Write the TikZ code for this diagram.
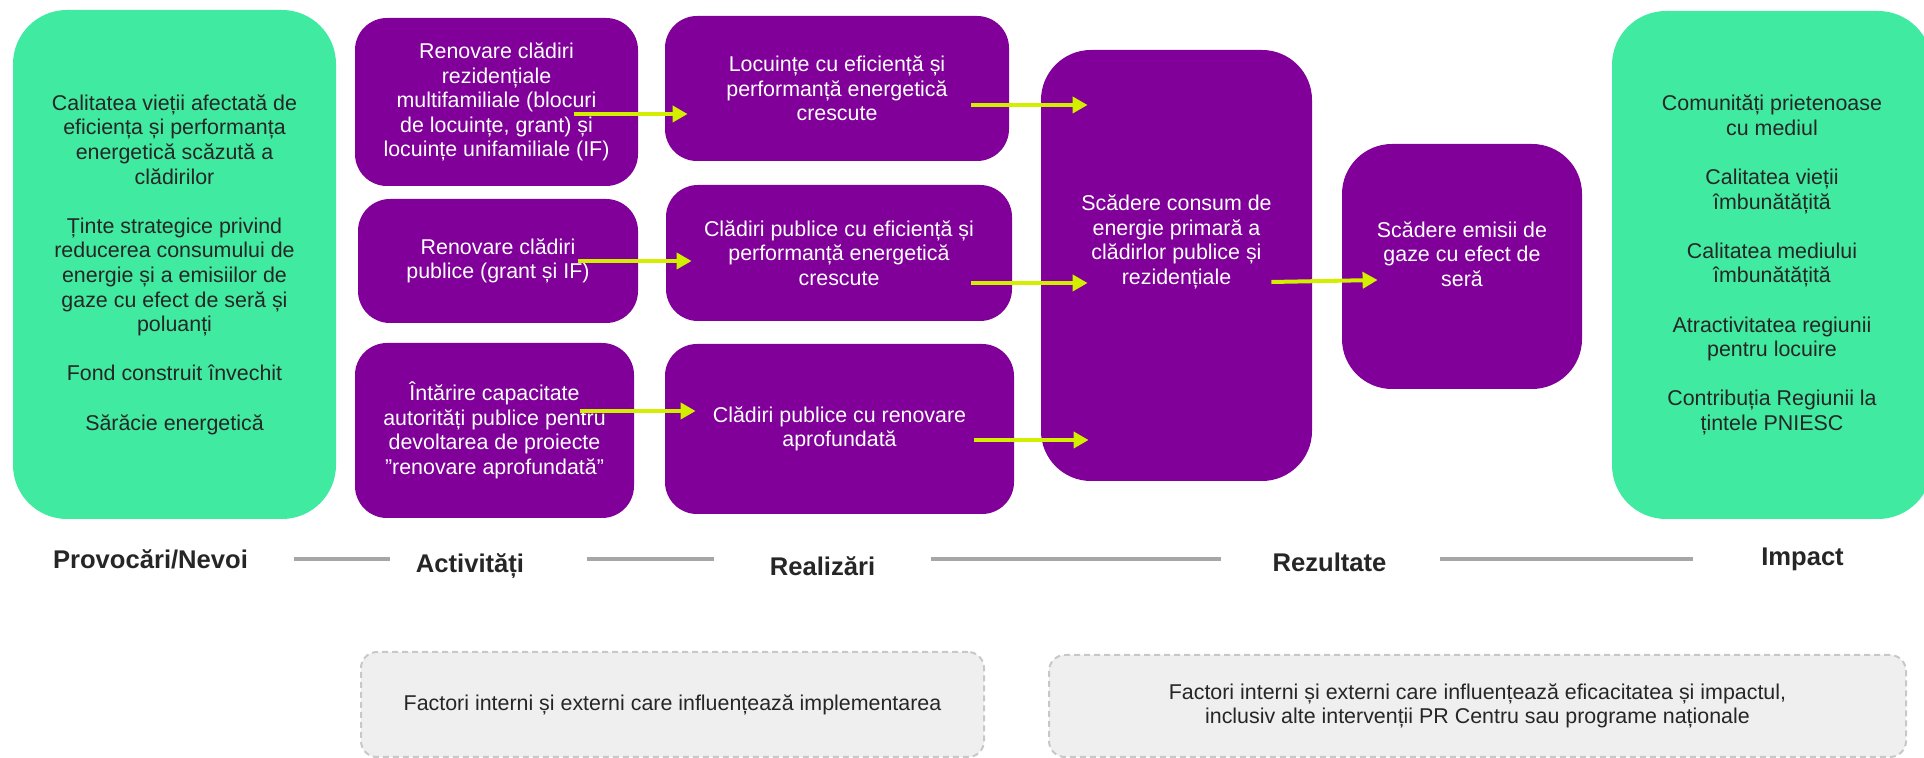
\documentclass[tikz,border=0pt]{standalone}
\usepackage{fontspec}
\setmainfont{Liberation Sans}
\usetikzlibrary{arrows.meta,calc}
\definecolor{NeedClr}{RGB}{64,234,160}
\definecolor{BoxClr}{RGB}{128,0,153}
\definecolor{ArrowClr}{RGB}{212,238,0}
\definecolor{LineClr}{RGB}{166,166,166}
\definecolor{TextClr}{RGB}{38,38,38}
\definecolor{NoteClr}{RGB}{239,239,239}
\definecolor{NoteLineClr}{RGB}{200,200,200}

\tikzset{
  boxtext/.style={align=center,inner sep=0pt,font=\fontsize{10.7pt}{12.3pt}\selectfont},
  greenbox/.style={boxtext,fill=NeedClr,text=TextClr,rounded corners=27pt},
  purplebox/.style={boxtext,fill=BoxClr,text=white,rounded corners=16pt},
  bigbox/.style={purplebox,rounded corners=25pt},
  notebox/.style={boxtext,fill=NoteClr,text=TextClr,draw=NoteLineClr,line width=1pt,
    dash pattern=on 3pt off 2pt,rounded corners=8pt},
  stagelabel/.style={anchor=base,text=TextClr,font=\fontsize{12.8pt}{15pt}\selectfont\bfseries},
  stageline/.style={draw=LineClr,line width=1.6pt},
  flow/.style={draw=ArrowClr,line width=2pt,-{Triangle[length=7.5pt,width=8pt]}}
}

\begin{document}
\begin{tikzpicture}[x=0.5pt,y=-0.5pt]
\useasboundingbox (0,0) rectangle (1924,758);

\node[greenbox,minimum width=161.5pt,minimum height=254.5pt] (needs) at (174.5,264.5)
  {Calitatea vieții afectată de\\eficiența și performanța\\energetică scăzută a\\clădirilor\\[12.3pt]
   Ținte strategice privind\\reducerea consumului de\\energie și a emisiilor de\\gaze cu efect de seră și\\poluanți\\[12.3pt]
   Fond construit învechit\\[12.3pt]Sărăcie energetică};

\node[purplebox,minimum width=141.5pt,minimum height=84pt] (act1) at (496.5,102)
  {Renovare clădiri\\rezidențiale\\multifamiliale (blocuri\\de locuințe, grant) și\\locuințe unifamiliale (IF)};
\node[purplebox,minimum width=140pt,minimum height=62pt] (act2) at (498,261)
  {Renovare clădiri\\publice (grant și IF)};
\node[purplebox,minimum width=139.5pt,minimum height=87.5pt] (act3) at (494.5,430.5)
  {Întărire capacitate\\autorități publice pentru\\devoltarea de proiecte\\”renovare aprofundată”};

\node[purplebox,minimum width=172pt,minimum height=72.5pt] (out1) at (837,88.5)
  {Locuințe cu eficiență și\\performanță energetică\\crescute};
\node[purplebox,minimum width=173pt,minimum height=68pt] (out2) at (839,253)
  {Clădiri publice cu eficiență și\\performanță energetică\\crescute};
\node[purplebox,minimum width=174.5pt,minimum height=85pt] (out3) at (839.5,429)
  {Clădiri publice cu renovare\\aprofundată};

\node[bigbox,minimum width=135.5pt,minimum height=215.5pt] (central) at (1176.5,265.5) {};
\node[boxtext,text=white] (centraltxt) at ([yshift=11.75pt]central.center)
  {Scădere consum de\\energie primară a\\clădirlor publice și\\rezidențiale};
\node[bigbox,minimum width=120pt,minimum height=122.5pt] (emis) at (1462,266.5) {};
\node[boxtext,text=white] (emistxt) at ([yshift=6.25pt]emis.center)
  {Scădere emisii de\\gaze cu efect de\\seră};

\node[greenbox,minimum width=160pt,minimum height=254pt] (impactbox) at (1772,265)
  {Comunități prietenoase\\cu mediul\\[12.3pt]Calitatea vieții\\îmbunătățită\\[12.3pt]
   Calitatea mediului\\îmbunătățită\\[12.3pt]Atractivitatea regiunii\\pentru locuire\\[12.3pt]
   Contribuția Regiunii la\\țintele PNIESC};

\draw[flow] ([xshift=-32pt]act1.east |- 0,114) -- ([xshift=11.5pt]out1.west |- 0,114);
\draw[flow] ([xshift=-30pt]act2.east |- 0,261) -- ([xshift=13pt]out2.west |- 0,261);
\draw[flow] ([xshift=-27pt]act3.east |- 0,411) -- ([xshift=15.5pt]out3.west |- 0,411);
\draw[flow] ([xshift=-19pt]out1.east |- 0,105) -- ([xshift=23.5pt]central.west |- 0,105);
\draw[flow] ([xshift=-20.5pt]out2.east |- 0,283) -- ([xshift=23.5pt]central.west |- 0,283);
\draw[flow] ([xshift=-20pt]out3.east |- 0,440) -- ([xshift=24pt]central.west |- 0,440);
\draw[flow] ([xshift=-20.5pt]central.east |- 0,282) -- ([xshift=18pt]emis.west |- 0,280);

\node[stagelabel] (provoc) at (150.5,569) {Provocări/Nevoi};
\node[stagelabel] (activ) at (470,573) {Activități};
\node[stagelabel] (realiz) at (822.5,576) {Realizări};
\node[stagelabel] (rezult) at (1329.5,572) {Rezultate};
\node[stagelabel] (impact) at (1802.5,566) {Impact};

\coordinate (tl) at (0,559);
\draw[stageline] ([xshift=19.5pt]provoc.east |- tl) -- ([xshift=-9.5pt]activ.west |- tl);
\draw[stageline] ([xshift=28pt]activ.east |- tl) -- ([xshift=-24.5pt]realiz.west |- tl);
\draw[stageline] ([xshift=24.5pt]realiz.east |- tl) -- ([xshift=-22.5pt]rezult.west |- tl);
\draw[stageline] ([xshift=23.5pt]rezult.east |- tl) -- ([xshift=-30.5pt]impact.west |- tl);

\node[notebox,minimum width=311.5pt,minimum height=52.5pt] (implnote) at (672.5,704.5)
  {Factori interni și externi care influențează implementarea};
\node[notebox,minimum width=428.5pt,minimum height=51pt] (effnote) at (1477.5,706)
  {Factori interni și externi care influențează eficacitatea și impactul,\\inclusiv alte intervenții PR Centru sau programe naționale};

\end{tikzpicture}
\end{document}
